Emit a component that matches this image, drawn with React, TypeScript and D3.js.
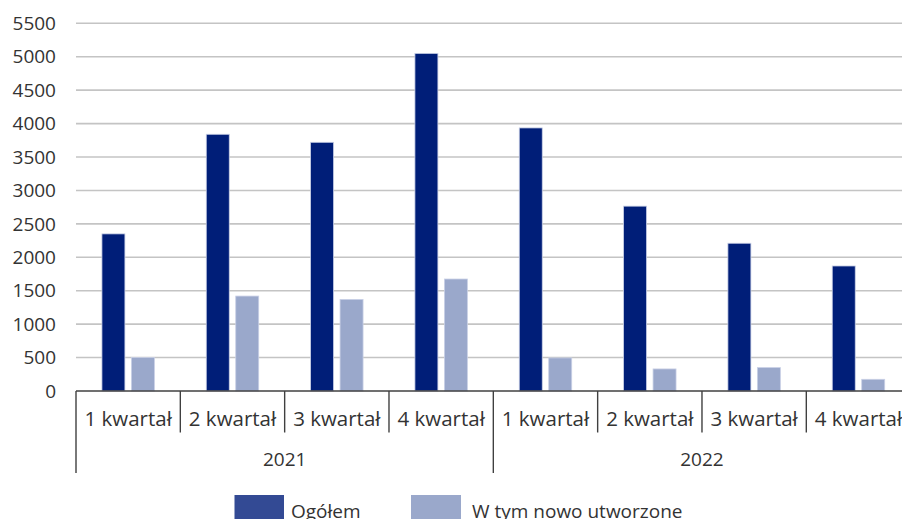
import React from "react";
import * as d3 from "d3";

const years = ["2021", "2022"];
const quarters = ["1 kwartał", "2 kwartał", "3 kwartał", "4 kwartał"];
const seriesNames = ["Ogółem", "W tym nowo utworzone"];
const ogolem = [2350, 3840, 3720, 5050, 3935, 2765, 2210, 1870];
const nowo = [500, 1420, 1370, 1675, 495, 330, 350, 175];
const yTicks = [0, 500, 1000, 1500, 2000, 2500, 3000, 3500, 4000, 4500, 5000, 5500];

const W = 902;
const H = 519;
const FONT = "'Open Sans', sans-serif";
const TEXT = "#333333";
const DARK = "#001e78";
const LIGHT = "#9aa8cb";

export default function App() {
  const left = 76;
  const step = 104.33;
  const n = years.length * quarters.length;
  const cats = d3.range(n).map(String);
  const x0 = d3.scaleBand<string>().domain(cats).range([left, left + step * n]);
  const x1 = d3
    .scaleBand<string>()
    .domain(seriesNames)
    .range([0, x0.bandwidth()])
    .paddingInner(0.22)
    .paddingOuter(0.88);
  const y = d3.scaleLinear().domain([0, 5500]).range([391, 23.3]);
  const values = [ogolem, nowo];
  const colors = [DARK, LIGHT];
  const axisY = y(0);

  return (
    <svg
      width={W}
      height={H}
      style={{ position: "absolute", left: 0, top: 0, display: "block" }}
      fontFamily={FONT}
    >
      <rect width={W} height={H} fill="#fff" />
      {yTicks.map((t) =>
        t === 0 ? null : (
          <line key={"g" + t} x1={left} x2={W} y1={y(t)} y2={y(t)} stroke="#c4c4c4" strokeWidth={1.6} />
        )
      )}
      {yTicks.map((t) => (
        <text
          key={"t" + t}
          x={56}
          y={y(t)}
          dy="0.35em"
          textAnchor="end"
          fontSize={19}
          fill={TEXT}
        >
          {t}
        </text>
      ))}
      {values.map((vals, si) =>
        vals.map((v, i) => (
          <rect
            key={si + "-" + i}
            x={(x0(String(i)) as number) + (x1(seriesNames[si]) as number)}
            y={y(v)}
            width={x1.bandwidth()}
            height={axisY - y(v)}
            fill={colors[si]}
            stroke="#c9d0e6"
            strokeWidth={0.8}
          />
        ))
      )}
      <line x1={left} x2={W} y1={axisY} y2={axisY} stroke="#404040" strokeWidth={1.4} />
      {cats.map((c, i) => {
        const xs = x0(c) as number;
        const isYearStart = i % quarters.length === 0;
        return (
          <line
            key={"s" + i}
            x1={xs}
            x2={xs}
            y1={axisY}
            y2={isYearStart ? 473 : 432.5}
            stroke="#404040"
            strokeWidth={1.4}
          />
        );
      })}
      <line x1={left + step * n} x2={left + step * n} y1={axisY} y2={473} stroke="#404040" strokeWidth={1.4} />
      {cats.map((c, i) => (
        <text
          key={"q" + i}
          x={(x0(c) as number) + x0.bandwidth() / 2}
          y={425.5}
          textAnchor="middle"
          fontSize={20.5}
          fill={TEXT}
        >
          {quarters[i % quarters.length]}
        </text>
      ))}
      {years.map((yr, yi) => {
        const xs = x0(String(yi * quarters.length)) as number;
        const xe = xs + step * quarters.length;
        return (
          <text key={yr} x={(xs + xe) / 2} y={466} textAnchor="middle" fontSize={19} fill={TEXT}>
            {yr}
          </text>
        );
      })}
      <g>
        <rect x={234.5} y={495} width={49.5} height={30} fill="#334a94" />
        <text x={291} y={518} fontSize={19} fill={TEXT}>
          {seriesNames[0]}
        </text>
        <rect x={411} y={495} width={50} height={30} fill={LIGHT} />
        <text x={472} y={518} fontSize={19} fill={TEXT}>
          {seriesNames[1]}
        </text>
      </g>
    </svg>
  );
}
